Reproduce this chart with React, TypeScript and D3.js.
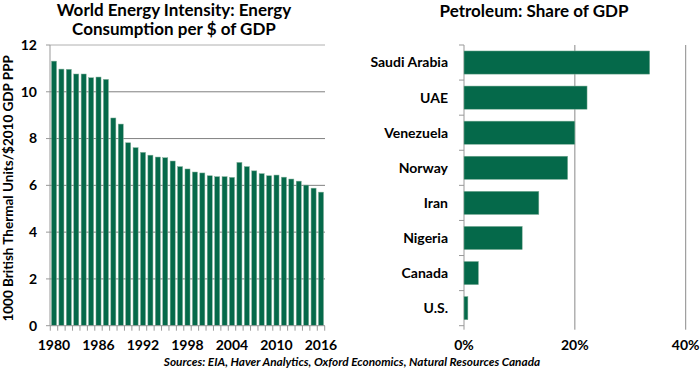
import * as d3 from 'd3';

const W = 700;
const H = 370;
const GREEN = '#05694a';
const FONT = 'Lato, "Open Sans", sans-serif';

// left chart: energy intensity, 1980-2016
const years = d3.range(1980, 2017);
const intensity = [
  11.31, 10.97, 10.96, 10.76, 10.76, 10.6, 10.63, 10.53, 8.88, 8.62,
  7.82, 7.61, 7.41, 7.29, 7.21, 7.18, 7.04, 6.8, 6.7, 6.57,
  6.53, 6.41, 6.37, 6.37, 6.34, 6.98, 6.8, 6.62, 6.5, 6.41,
  6.44, 6.35, 6.27, 6.18, 6.01, 5.88, 5.71,
];
const yTicks = [0, 2, 4, 6, 8, 10, 12];
const yearLabels = [1980, 1986, 1992, 1998, 2004, 2010, 2016];

// right chart: petroleum share of GDP (%)
const countries = ['Saudi Arabia', 'UAE', 'Venezuela', 'Norway', 'Iran', 'Nigeria', 'Canada', 'U.S.'];
const shares = [33.5, 22.2, 20.0, 18.7, 13.5, 10.5, 2.6, 0.7];
const shareTicks = [0, 20, 40];

const L = { left: 50, right: 325, top: 45, bottom: 325.7 };
const R = { left: 464, right: 685.7, top: 45, bottom: 325.7 };

export default function App() {
  const x = d3.scaleBand<number>().domain(years).range([L.left, L.right]).paddingInner(0.32).paddingOuter(0.2);
  const y = d3.scaleLinear().domain([0, 12]).range([L.bottom, L.top]);
  const step = x.step();
  const tick0 = x(years[0])! - step * 0.16;

  const xr = d3.scaleLinear().domain([0, 40]).range([R.left, R.right]);
  const yr = d3.scaleBand<string>().domain(countries).range([R.top, R.bottom]).paddingInner(0.34).paddingOuter(0.17);
  const ystep = yr.step();

  return (
    <svg width={W} height={H} style={{ position: 'absolute', left: 0, top: 0, background: '#fff' }} fontFamily={FONT}>
      {/* ---- left chart ---- */}
      <text x={174} y={16} textAnchor="middle" fontSize={17} fontWeight="bold">World Energy Intensity: Energy</text>
      <text x={174} y={35} textAnchor="middle" fontSize={17} fontWeight="bold">Consumption per $ of GDP</text>

      {yTicks.map(t => (
        <g key={t}>
          {t > 0 && (
            <line x1={L.left} x2={L.right} y1={y(t)} y2={y(t)} stroke={t === 12 ? '#b0b0b0' : '#808080'} strokeWidth={1} />
          )}
          <line x1={L.left - 4} x2={L.left} y1={y(t)} y2={y(t)} stroke="#999" />
          <text x={37} y={y(t)} dy="0.35em" textAnchor="end" fontSize={14} fontWeight="bold">{t}</text>
        </g>
      ))}

      {years.map((yr0, i) => (
        <rect key={yr0} x={x(yr0)} y={y(intensity[i])} width={x.bandwidth()} height={y(0) - y(intensity[i])}
          fill={GREEN} stroke="#7fae97" strokeWidth={0.5} />
      ))}

      <line x1={L.left} x2={L.left} y1={L.top} y2={L.bottom} stroke="#999" />
      <line x1={L.left} x2={L.right} y1={L.bottom} y2={L.bottom} stroke="#999" />
      {d3.range(years.length + 1).map(i => (
        <line key={i} x1={tick0 + i * step} x2={tick0 + i * step} y1={L.bottom} y2={L.bottom + 5} stroke="#999" />
      ))}
      {yearLabels.map(yl => (
        <text key={yl} x={x(yl)! + x.bandwidth() / 2} y={350} textAnchor="middle" fontSize={14} fontWeight="bold">{yl}</text>
      ))}

      <text transform={`translate(13,${(L.top + L.bottom) / 2 + 3}) rotate(-90)`} textAnchor="middle" fontSize={13.5} fontWeight="bold">
        1000 British Thermal Units/$2010 GDP PPP
      </text>

      {/* ---- right chart ---- */}
      <text x={534} y={17} textAnchor="middle" fontSize={17} fontWeight="bold">Petroleum: Share of GDP</text>

      {shareTicks.map(t => (
        <g key={t}>
          <line x1={xr(t)} x2={xr(t)} y1={R.top} y2={R.bottom + 4} stroke={t === 0 ? '#999' : '#8a8a8a'} />
          <text x={xr(t)} y={350} textAnchor="middle" fontSize={14} fontWeight="bold">{t}%</text>
        </g>
      ))}
      {d3.range(countries.length + 1).map(i => (
        <line key={i} x1={R.left - 5} x2={R.left} y1={R.top + i * ystep} y2={R.top + i * ystep} stroke="#999" />
      ))}
      {countries.map((c, i) => (
        <g key={c}>
          <rect x={xr(0)} y={yr(c)} width={xr(shares[i]) - xr(0)} height={yr.bandwidth()} fill={GREEN} stroke="#7fae97" strokeWidth={0.5} />
          <text x={448} y={yr(c)! + yr.bandwidth() / 2} dy="0.35em" textAnchor="end" fontSize={14} fontWeight="bold">{c}</text>
        </g>
      ))}

      <text x={352} y={366} textAnchor="middle" fontSize={11.8} fontWeight="bold" fontStyle="italic">
        Sources: EIA, Haver Analytics, Oxford Economics, Natural Resources Canada
      </text>
    </svg>
  );
}
